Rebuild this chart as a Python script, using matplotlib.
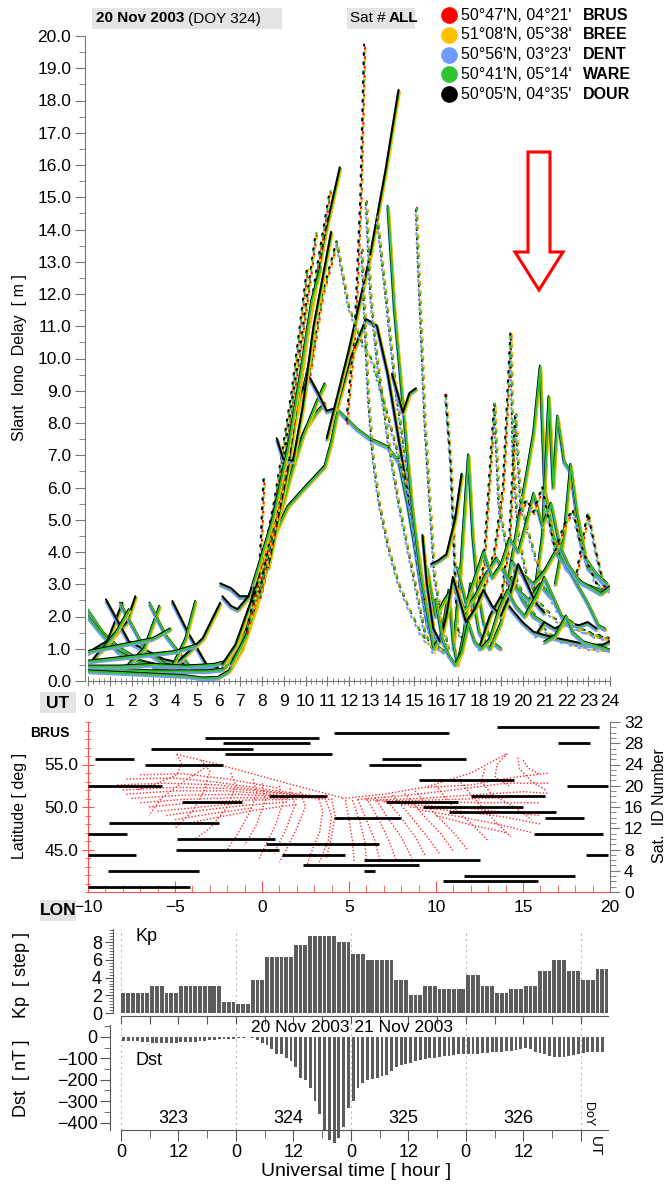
import numpy as np
import matplotlib
matplotlib.use('Agg')
import matplotlib.pyplot as plt
import matplotlib.transforms as mtrans
from matplotlib.ticker import MultipleLocator, FormatStrFormatter, FixedLocator, FixedFormatter
from matplotlib.lines import Line2D
from matplotlib.patches import Polygon, Rectangle

plt.rcParams['font.family'] = ['Liberation Sans', 'DejaVu Sans']

###############################################################################
# Data
###############################################################################
STATIONS = ['BRUS', 'BREE', 'DENT', 'WARE', 'DOUR']
COORDS = ["50°47'N, 04°21'", "51°08'N, 05°38'", "50°56'N, 03°23'",
          "50°41'N, 05°14'", "50°05'N, 04°35'"]
# Slant delay arcs (UT hour, metres) -- night hours
ARCS_NIGHT = [
    [(0.0, 2.2), (0.7, 1.5), (1.5, 1.0), (2.5, 0.6), (3.5, 0.45)],
    [(0.0, 2.0), (0.6, 1.5), (1.4, 0.9), (2.3, 0.6), (3.0, 0.5)],
    [(0.2, 0.6), (0.9, 1.2), (1.6, 2.4)],
    [(0.0, 0.85), (1.0, 1.25), (1.8, 1.8), (2.2, 2.6)],
    [(0.85, 2.5), (1.9, 1.2), (3.5, 0.65), (4.5, 0.5)],
    [(1.5, 2.4), (2.7, 0.9), (3.6, 0.5), (4.5, 0.4)],
    [(0.6, 0.9), (1.3, 1.5), (1.9, 2.2)],
    [(1.6, 0.3), (2.6, 1.0), (3.3, 2.3)],
    [(2.85, 2.4), (3.6, 1.4), (4.7, 0.45), (5.5, 0.4)],
    [(3.9, 2.45), (4.6, 1.5), (5.5, 0.45), (6.0, 0.4)],
    [(3.0, 0.4), (3.9, 0.45), (4.5, 1.3), (4.95, 2.45)],
    [(4.2, 0.6), (5.3, 1.3), (6.1, 2.4)],
    [(0.0, 0.9), (1.5, 1.1), (3.0, 1.3), (3.8, 1.6)],
    [(0.0, 0.6), (2.0, 0.75), (4.0, 0.9), (5.0, 1.1)],
    [(6.1, 3.0), (6.6, 2.85), (7.0, 2.6), (7.4, 2.6), (7.9, 3.3), (8.3, 4.2)],
    [(6.2, 2.6), (6.6, 2.3), (6.9, 2.2), (7.4, 2.6), (8.0, 3.8), (8.5, 5.0)],
]
# morning rise
ARCS_RISE = [
    [(0.0, 0.35), (1.5, 0.35), (3.0, 0.3), (4.5, 0.3), (5.5, 0.3), (6.2, 0.35),
     (6.7, 0.7), (7.3, 1.6), (8.0, 3.2), (8.7, 5.0), (9.4, 6.8), (10.0, 7.8),
     (10.5, 8.3), (10.9, 8.6)],
    [(0.0, 0.3), (1.5, 0.25), (3.0, 0.2), (4.5, 0.15), (5.3, 0.08), (6.0, 0.1),
     (6.5, 0.3), (7.1, 1.0), (7.8, 2.4), (8.6, 4.5), (9.3, 6.3), (9.9, 7.6),
     (10.5, 8.6), (10.9, 9.2)],
    [(0.0, 0.45), (1.5, 0.45), (3.0, 0.5), (4.5, 0.45), (5.8, 0.5), (6.4, 0.6),
     (6.9, 1.2), (7.5, 2.4), (8.2, 4.2), (8.9, 6.2), (9.5, 8.0), (10.0, 9.3),
     (10.4, 10.5)],
    [(6.6, 0.5), (7.3, 1.4), (8.0, 3.0), (8.5, 4.4), (9.2, 5.4), (10.0, 6.0),
     (10.9, 6.65), (11.2, 7.4), (11.5, 8.4), (12.4, 7.8), (13.0, 7.5),
     (13.8, 7.25), (14.3, 6.8), (14.7, 5.5), (15.0, 4.3), (15.3, 3.0),
     (15.6, 1.8), (16.0, 1.1), (16.4, 0.9)],
    [(6.2, 0.5), (6.8, 1.1), (7.6, 2.6), (8.4, 4.8), (9.2, 7.3), (9.8, 8.9),
     (10.2, 9.4), (10.6, 8.9), (11.0, 8.35), (11.46, 8.45), (12.1, 10.0),
     (12.8, 11.2), (13.3, 11.0), (13.8, 9.5), (14.3, 7.5), (14.8, 5.5),
     (15.2, 4.0), (15.6, 2.0), (16.0, 1.0)],
]
# midday peaks
ARCS_PEAK = [
    [(11.9, 8.0), (12.3, 11.0), (12.55, 15.0), (12.72, 19.7)],
    [(11.0, 7.5), (12.0, 10.2), (13.0, 13.2), (13.7, 15.8), (14.3, 18.3)],
    [(8.3, 3.5), (9.2, 6.5), (10.1, 10.8), (10.9, 13.8), (11.6, 15.9)],
    [(8.0, 2.8), (9.0, 6.2), (9.9, 10.0), (10.6, 13.0), (11.15, 15.2)],
    [(7.6, 2.2), (8.6, 5.6), (9.4, 9.0), (10.1, 12.8)],
    [(7.9, 2.6), (8.9, 6.3), (9.8, 10.4), (10.5, 13.9)],
    [(10.2, 9.5), (10.8, 12.0), (11.45, 13.6), (12.0, 11.6), (12.6, 10.5),
     (13.1, 9.9), (13.6, 8.7), (14.2, 7.2), (14.8, 5.6), (15.4, 2.6), (15.8, 1.5)],
    [(7.3, 1.5), (7.9, 3.3), (8.1, 6.3)],
    [(8.7, 7.5), (9.0, 6.85), (9.45, 6.8), (9.9, 8.5), (10.4, 11.0),
     (10.9, 12.8), (11.2, 13.9)],
    [(7.6, 3.0), (8.5, 5.0), (9.2, 7.2), (9.8, 9.6), (10.3, 11.8), (10.7, 12.8)],
]
# afternoon fall
ARCS_FALL = [
    [(12.8, 14.9), (13.0, 12.0), (13.3, 10.0), (13.8, 7.5), (14.3, 5.5),
     (14.9, 3.5), (15.5, 1.5), (15.9, 0.9)],
    [(13.3, 14.45), (13.7, 12.0), (14.2, 8.8), (14.7, 6.5), (15.2, 3.5),
     (15.7, 1.5), (16.2, 1.0)],
    [(13.8, 14.7), (14.1, 11.5), (14.5, 8.5), (14.9, 5.5), (15.3, 3.3),
     (15.7, 1.8), (16.1, 1.2)],
    [(15.1, 14.7), (15.2, 12.9), (15.35, 10.5), (15.5, 8.0), (15.7, 5.8),
     (15.95, 3.2), (16.3, 1.8), (16.6, 1.0)],
    [(14.0, 9.5), (14.5, 8.3), (14.8, 8.9), (15.1, 9.05)],
    [(12.6, 13.4), (12.75, 11.0), (12.9, 8.8), (13.1, 7.0), (13.4, 5.5),
     (13.8, 4.2), (14.3, 3.0), (14.8, 2.2), (15.3, 1.5), (15.6, 1.2)],
    [(16.45, 8.9), (16.7, 6.6), (16.9, 3.1), (17.0, 1.6), (17.3, 1.2)],
]
# evening disturbance
ARCS_EVENING = [
    [(18.2, 2.8), (18.7, 4.0), (19.1, 6.0), (19.45, 10.8), (19.55, 7.0),
     (19.8, 4.5), (20.2, 3.2), (20.8, 2.4), (21.5, 1.9), (22.5, 1.6),
     (23.5, 1.4), (24.0, 1.3)],
    [(17.6, 2.2), (18.2, 3.5), (18.7, 8.6), (18.9, 5.5), (19.3, 4.0),
     (19.8, 3.0), (20.4, 2.2), (21.0, 1.6), (21.5, 1.3), (22.5, 1.1),
     (23.2, 1.0), (23.8, 0.95)],
    [(19.3, 3.0), (19.8, 5.0), (20.2, 6.5), (20.5, 7.7), (20.8, 9.75),
     (21.0, 6.0), (21.4, 4.5), (22.0, 3.5), (22.8, 3.0), (23.6, 2.8), (24.0, 2.9)],
    [(20.5, 2.5), (20.9, 4.5), (21.2, 8.8), (21.4, 6.0), (21.6, 8.2),
     (21.9, 6.8), (22.2, 6.5), (22.6, 4.5), (23.0, 3.5), (23.5, 3.2), (24.0, 2.8)],
    [(22.4, 3.0), (22.8, 4.5), (23.0, 5.2), (23.3, 4.2), (23.6, 3.3), (23.9, 2.9)],
    [(19.0, 2.5), (19.4, 4.5), (19.67, 8.3), (19.9, 5.5), (20.3, 4.5),
     (20.6, 3.8), (21.0, 3.0), (21.5, 2.3), (22.0, 1.8), (22.7, 1.6),
     (23.3, 1.4), (23.9, 1.3)],
    [(21.5, 3.0), (21.9, 4.5), (22.2, 6.7), (22.5, 5.2), (22.9, 3.8),
     (23.4, 3.3), (23.9, 3.0)],
    [(15.8, 3.6), (16.1, 3.7), (16.5, 3.9), (16.9, 5.0), (17.2, 6.4)],
    [(16.8, 1.0), (17.1, 3.0), (17.3, 5.0), (17.5, 7.0), (17.7, 4.5),
     (17.9, 3.0), (18.2, 1.8), (18.6, 1.2), (19.0, 1.0)],
    [(15.5, 2.5), (15.9, 1.0), (16.3, 1.5), (16.6, 2.8), (16.8, 1.2),
     (17.0, 0.5), (17.3, 1.5), (17.6, 3.0), (18.0, 1.5), (18.5, 1.0),
     (19.0, 1.8), (19.5, 3.2), (20.0, 2.5), (20.5, 2.0), (21.0, 1.8)],
    [(15.6, 3.5), (16.0, 2.0), (16.4, 2.5), (16.9, 3.0), (17.3, 2.2),
     (17.8, 2.6), (18.3, 3.3), (18.8, 3.8), (19.3, 3.2), (19.8, 2.8),
     (20.3, 2.5), (20.8, 3.0), (21.3, 2.6)],
    [(19.5, 3.7), (20.0, 3.3), (20.5, 3.0), (21.0, 3.4), (21.5, 4.0),
     (22.0, 3.6), (22.5, 3.0), (23.0, 2.4), (23.5, 1.7), (23.8, 1.6)],
    [(20.6, 1.4), (21.0, 1.8), (21.5, 1.6), (22.0, 1.8), (22.6, 1.7),
     (23.0, 1.8), (23.4, 1.6)],
    [(18.0, 1.0), (18.5, 2.0), (19.0, 2.6), (19.5, 2.2), (20.0, 1.8),
     (20.5, 1.5), (21.0, 1.4), (21.6, 1.3), (22.3, 1.2), (23.0, 1.1),
     (23.7, 1.1), (24.0, 1.2)],
    [(15.4, 4.5), (15.6, 3.0), (15.9, 1.6), (16.2, 1.2), (16.5, 2.0),
     (16.8, 3.2), (17.1, 2.5), (17.4, 1.8), (17.8, 2.2), (18.2, 2.8),
     (18.6, 2.3), (19.0, 2.0), (19.4, 2.6), (19.8, 3.6), (20.2, 3.0),
     (20.6, 2.4), (21.0, 2.1)],
    [(16.0, 2.5), (16.3, 1.3), (16.6, 0.8), (16.9, 0.5), (17.2, 0.9),
     (17.5, 1.8), (17.8, 1.2), (18.1, 1.0), (18.5, 1.3), (18.9, 2.2),
     (19.3, 2.8), (19.7, 2.3), (20.1, 2.0), (20.6, 2.6), (21.0, 3.2),
     (21.4, 2.6), (21.8, 2.0), (22.3, 1.8)],
    [(17.0, 3.5), (17.4, 2.4), (17.8, 3.2), (18.2, 4.0), (18.6, 3.2),
     (19.0, 3.6), (19.4, 4.4), (19.8, 4.0), (20.2, 5.0), (20.5, 5.8),
     (20.9, 4.8), (21.3, 5.5), (21.7, 4.2), (22.1, 3.6), (22.6, 3.1),
     (23.1, 2.9), (23.6, 2.7), (24.0, 2.9)],
    [(19.8, 5.2), (20.2, 5.6), (20.5, 5.2), (20.9, 6.0), (21.2, 5.0),
     (21.5, 4.0), (21.9, 4.8), (22.3, 5.3), (22.6, 4.4), (23.0, 3.6),
     (23.4, 3.0), (23.8, 2.9)],
    [(21.0, 1.2), (21.5, 1.4), (22.0, 2.0), (22.3, 1.5), (22.8, 1.2),
     (23.3, 1.1), (23.8, 1.0), (24.0, 0.95)],
]
# Ionospheric pierce point tracks seen from BRUS (lon, lat)
TRACKS = [
    [(-4.9, 56.2), (-2.5, 55.0), (0.0, 53.6), (2.5, 52.2), (4.6, 51.1)],
    [(4.6, 51.0), (7.0, 51.5), (9.5, 52.4), (12.0, 54.0), (14.1, 56.3)],
    [(-7.8, 53.3), (-5.0, 53.4), (-2.5, 52.9), (0.5, 52.0), (3.0, 51.3)],
    [(-8.0, 52.0), (-5.0, 52.3), (-2.0, 52.2), (1.0, 51.6), (3.5, 51.0)],
    [(-7.5, 51.0), (-4.5, 51.4), (-1.5, 51.5), (1.5, 51.2), (4.0, 50.9)],
    [(-6.5, 50.0), (-4.0, 50.5), (-1.0, 50.8), (2.0, 50.9)],
    [(-5.5, 49.0), (-3.5, 49.6), (-1.0, 50.2), (1.5, 50.6)],
    [(-4.5, 48.0), (-2.5, 48.8), (-0.5, 49.6), (2.0, 50.3)],
    [(-7.0, 53.8), (-4.5, 53.9), (-2.0, 53.3), (1.0, 52.2)],
    [(-8.3, 52.6), (-5.5, 52.8), (-2.5, 52.6), (0.5, 51.8), (3.0, 51.2)],
    [(-7.8, 51.5), (-5.0, 51.9), (-2.0, 51.9), (1.0, 51.4)],
    [(-7.0, 50.5), (-4.5, 50.9), (-1.5, 51.1), (1.5, 51.0)],
    [(-6.0, 49.5), (-3.5, 50.0), (-1.0, 50.5)],
    [(-5.0, 48.5), (-3.0, 49.2), (-0.5, 49.9)],
    [(-4.9, 56.2), (-4.6, 55.0), (-4.9, 53.8), (-6.0, 52.8), (-7.2, 52.0)],
    [(-3.5, 55.5), (-3.0, 54.2), (-3.3, 52.0), (-4.0, 49.5), (-5.0, 47.5)],
    [(-3.0, 55.0), (-4.5, 53.0), (-5.8, 51.0), (-6.5, 49.0)],
    [(-1.8, 54.0), (-1.5, 52.5), (-2.0, 50.0), (-3.0, 47.5), (-4.0, 46.0)],
    [(-0.5, 53.3), (-0.3, 51.5), (-0.8, 49.0), (-1.5, 46.5), (-2.0, 45.0)],
    [(0.0, 52.8), (0.2, 50.8), (-0.3, 48.0), (-1.0, 45.5)],
    [(1.0, 52.5), (1.2, 50.5), (0.8, 48.0), (0.2, 45.5), (-0.2, 43.8)],
    [(1.6, 52.2), (1.9, 50.2), (1.4, 47.5), (0.7, 44.5)],
    [(2.2, 51.8), (2.5, 50.0), (2.0, 47.5), (1.4, 45.0), (1.0, 43.5)],
    [(3.2, 51.3), (3.5, 49.5), (3.3, 47.0), (2.8, 44.5), (2.6, 43.2)],
    [(3.6, 51.1), (4.0, 49.0), (3.8, 46.0), (3.3, 43.5)],
    [(4.0, 51.0), (4.2, 49.0), (4.0, 46.5), (3.7, 44.0)],
    [(4.8, 50.8), (5.0, 48.5), (5.2, 46.0), (5.3, 43.5)],
    [(5.2, 50.8), (5.6, 48.5), (5.9, 46.0), (6.0, 43.5)],
    [(5.5, 50.9), (6.0, 48.5), (6.5, 46.0), (6.8, 43.5)],
    [(6.0, 51.0), (6.7, 48.6), (7.3, 46.0), (7.7, 43.8)],
    [(6.5, 51.1), (7.2, 48.8), (8.0, 46.5), (8.6, 44.0)],
    [(7.0, 51.2), (7.9, 49.0), (8.8, 46.5), (9.4, 44.2)],
    [(7.5, 51.4), (8.5, 49.0), (9.5, 46.5), (10.2, 44.5)],
    [(8.2, 51.6), (9.2, 49.2), (10.3, 46.8), (11.0, 44.8)],
    [(8.8, 51.9), (9.8, 49.5), (11.0, 47.0), (11.8, 45.0)],
    [(10.0, 52.5), (11.0, 50.0), (12.3, 47.5), (13.0, 46.0)],
    [(11.3, 53.2), (12.2, 51.0), (13.3, 48.5), (14.3, 46.5)],
    [(12.8, 54.5), (12.6, 53.0), (13.2, 51.5), (14.5, 50.0), (15.5, 48.5)],
    [(14.1, 56.3), (13.5, 55.0), (13.4, 53.5), (14.2, 52.5)],
    [(14.7, 55.8), (14.8, 54.5), (15.5, 53.0), (16.3, 52.0)],
    [(15.0, 55.5), (15.3, 54.6), (16.0, 53.8)],
    [(9.5, 52.3), (12.0, 52.6), (14.5, 53.5), (16.5, 54.0)],
    [(5.5, 50.9), (8.0, 51.3), (11.0, 52.0), (14.0, 52.8), (16.5, 52.8)],
    [(6.0, 50.8), (9.0, 51.0), (12.0, 51.4), (15.0, 51.8), (16.5, 51.6)],
    [(6.5, 50.7), (9.5, 50.8), (12.5, 51.0), (15.5, 51.2)],
    [(7.0, 50.6), (10.0, 50.6), (13.0, 50.5), (16.0, 50.5)],
    [(8.0, 50.3), (11.0, 50.0), (13.5, 49.5), (16.0, 49.0)],
    [(8.5, 50.0), (11.5, 49.5), (14.0, 48.8), (16.0, 48.0)],
    [(9.0, 49.7), (11.5, 48.8), (13.5, 48.0), (15.5, 47.0)],
    [(10.0, 49.0), (12.0, 47.9), (14.0, 47.0)],
]
# Satellite visibility: (sat id, start UT, end UT)
SAT_PASSES = [
    (31, 18.8, 23.5), (30, 11.3, 16.6), (29, 5.4, 10.6), (28, 6.2, 10.2),
    (28, 21.6, 23.1), (27, 2.9, 7.6), (26, 6.3, 11.2), (25, 13.5, 17.4),
    (25, 0.3, 2.1), (24, 2.6, 6.2), (24, 12.9, 15.3), (21, 15.2, 19.6),
    (20, 0.0, 3.4), (20, 22.0, 23.9), (18, 8.3, 11.0), (18, 17.6, 21.0),
    (17, 4.3, 7.1), (17, 13.7, 17.0), (16, 15.4, 20.0), (15, 16.6, 21.5),
    (14, 11.3, 14.4), (14, 21.0, 22.8), (13, 0.95, 6.0), (11, 0.0, 1.8),
    (11, 20.5, 23.7), (10, 4.1, 8.6), (9, 8.2, 13.4), (8, 4.05, 8.8),
    (7, 0.0, 2.2), (7, 8.9, 11.8), (7, 22.9, 23.9), (6, 12.7, 18.0),
    (5, 9.9, 15.2), (4, 0.9, 5.1), (4, 12.7, 13.2), (3, 17.3, 22.4),
    (2, 16.3, 20.7), (1, 0.0, 4.7),
]
# Kp, 3-hourly from DOY 323 00 UT
KP = [2.3, 2.3, 3.0, 2.3, 3.0, 3.0, 3.0, 1.3,
      1.0, 3.7, 6.3, 6.3, 7.7, 8.7, 8.7, 8.0,
      6.7, 6.0, 6.0, 3.7, 2.0, 3.0, 2.7, 2.7,
      4.3, 3.0, 2.3, 2.7, 3.0, 4.7, 6.0, 4.7,
      3.7, 5.0]
# Dst, hourly from DOY 323 00 UT
DST = [-18, -18, -20, -20, -22, -25, -28, -30, -30, -30, -28, -28,
       -26, -25, -22, -22, -20, -18, -16, -14, -12, -10, -9, -8,
       -5, -4, -3, -5, -15, -28, -38, -55, -80, -80, -100, -115,
       -140, -190, -200, -240, -300, -360, -440, -480, -495, -470, -420, -330,
       -300, -240, -215, -200, -195, -190, -185, -180, -160, -140, -130, -125,
       -120, -115, -110, -105, -100, -100, -95, -90, -88, -85, -80, -80,
       -80, -80, -78, -75, -75, -72, -70, -70, -68, -65, -60, -55,
       -52, -58, -70, -75, -80, -88, -92, -95, -92, -88, -85, -80,
       -75, -72, -70, -72, -72]
DOY_LABELS = ['323', '324', '325', '326']

###############################################################################
# Styles
###############################################################################
COLORS = {'BRUS': '#ff0000', 'BREE': '#ffc000', 'DENT': '#6d9bff',
          'WARE': '#2fc42f', 'DOUR': '#000000'}
OFFSETS = {'BRUS': (0.4, -0.6), 'BREE': (0.7, -1.0), 'DENT': (-0.7, -1.3),
           'DOUR': (-0.4, 0.7), 'WARE': (0.0, 0.0)}
# s = solid, k = solid black on top, d = dotted, D = dotted black on top
STYLE_NIGHT = 'sskkkssssksksskk'
STYLE_RISE = 'ssssk'
STYLE_PEAK = 'DkkddddDks'
STYLE_FALL = 'ddsdkdD'
STYLE_EVENING = 'ddssDdsksssskkkssDs'
GREY = '#e4e4e4'

(W, H) = (668, 1194)
def fx(x):
    return x / W
def fy(y):
    return 1 - y / H

fig = plt.figure(figsize=(W / 100, H / 100), dpi=100)

###############################################################################
# Slant delay panel
###############################################################################
ax1 = fig.add_axes([fx(88), fy(681), fx(610) - fx(88), fy(36) - fy(681)])

def draw_arc(ax, pts, style):
    t = [p[0] for p in pts]
    v = [p[1] for p in pts]
    if style in 'kD':
        order = ['BRUS', 'BREE', 'DENT', 'WARE', 'DOUR']
    else:
        order = ['BRUS', 'BREE', 'DENT', 'DOUR', 'WARE']
    for (i, st) in enumerate(order):
        (dx, dy) = OFFSETS[st]
        tr = mtrans.offset_copy(ax.transData, fig=fig, x=dx, y=dy, units='points')
        if style in 'dD':
            ax.plot(t, v, color=COLORS[st], lw=1.5, ls=(i * 0.9, (0.8, 3.7)),
                    transform=tr, dash_capstyle='round')
        else:
            ax.plot(t, v, color=COLORS[st], lw=1.4, transform=tr,
                    solid_capstyle='round', solid_joinstyle='round')

for (group, styles) in [(ARCS_NIGHT, STYLE_NIGHT), (ARCS_RISE, STYLE_RISE),
                        (ARCS_PEAK, STYLE_PEAK), (ARCS_FALL, STYLE_FALL),
                        (ARCS_EVENING, STYLE_EVENING)]:
    for (pts, st) in zip(group, styles):
        draw_arc(ax1, pts, st)

ax1.set_xlim(0, 24)
ax1.set_ylim(0, 20)
for s in ['top', 'right']:
    ax1.spines[s].set_visible(False)
for s in ['left', 'bottom']:
    ax1.spines[s].set_color('#777777')
ax1.spines['left'].set_position(('outward', 2))
ax1.yaxis.set_major_locator(MultipleLocator(1))
ax1.yaxis.set_minor_locator(MultipleLocator(0.5))
ax1.yaxis.set_major_formatter(FormatStrFormatter('%.1f'))
ax1.xaxis.set_major_locator(MultipleLocator(1))
ax1.xaxis.set_minor_locator(MultipleLocator(0.25))
ax1.tick_params(axis='y', which='major', length=7, color='#777777', labelsize=12.5, pad=3)
ax1.tick_params(axis='y', which='minor', length=4, color='#777777')
ax1.tick_params(axis='x', which='major', direction='inout', length=7, color='#777777',
                labelsize=12.5, pad=6)
ax1.tick_params(axis='x', which='minor', direction='inout', length=5, color='#777777')
fig.text(fx(20), fy(358), 'Slant  Iono  Delay  [ m ]', rotation=90,
         ha='center', va='center', fontsize=11.5)

# header boxes
fig.add_artist(Rectangle((fx(92), fy(29)), fx(282) - fx(92), fy(8) - fy(29),
                         transform=fig.transFigure, color=GREY, lw=0))
fig.text(fx(96), fy(18.5), '20 Nov 2003', fontsize=11, fontweight='bold', va='center')
fig.text(fx(188), fy(18.5), '(DOY 324)', fontsize=11, va='center')
fig.add_artist(Rectangle((fx(347), fy(29)), fx(415) - fx(347), fy(8) - fy(29),
                         transform=fig.transFigure, color=GREY, lw=0))
fig.text(fx(350), fy(18.5), 'Sat #', fontsize=11, va='center')
fig.text(fx(389), fy(18.5), 'ALL', fontsize=11, fontweight='bold', va='center')

# legend
for (i, (st, co)) in enumerate(zip(STATIONS, COORDS)):
    yy = fy(15 + i * 19.8)
    fig.add_artist(Line2D([fx(449)], [yy], marker='o', ms=11, color=COLORS[st],
                          mec=COLORS[st], transform=fig.transFigure))
    fig.text(fx(461), yy, co, fontsize=11.5, va='center')
    fig.text(fx(583), yy, st, fontsize=11.5, fontweight='bold', va='center')

# red arrow
arrow = [(528, 152), (550, 152), (550, 252), (563, 252), (539, 290),
         (515, 252), (528, 252)]
fig.add_artist(Polygon([(fx(a), fy(b)) for (a, b) in arrow], closed=True,
                       transform=fig.transFigure, fill=False, ec='#ff0000', lw=2.2))

# UT box
fig.add_artist(Rectangle((fx(40), fy(713)), fx(76) - fx(40), fy(692) - fy(713),
                         transform=fig.transFigure, color=GREY, lw=0))
fig.text(fx(58), fy(703), 'UT', fontsize=12.5, fontweight='bold', ha='center', va='center')

###############################################################################
# Pierce point / satellite panel
###############################################################################
rect = [fx(88), fy(892), fx(610) - fx(88), fy(722) - fy(892)]
ax2 = fig.add_axes(rect)
for trk in TRACKS:
    ax2.plot([p[0] for p in trk], [p[1] for p in trk], color='#ff2a2a', lw=1.0,
             ls=(0, (1, 1.4)))
ax2.set_xlim(-10, 20)
ax2.set_ylim(40, 60)
for s in ['top', 'right']:
    ax2.spines[s].set_visible(False)
for s in ['left', 'bottom']:
    ax2.spines[s].set_color('#ff5050')
ax2.xaxis.set_major_locator(MultipleLocator(5))
ax2.xaxis.set_minor_locator(MultipleLocator(1))
ax2.yaxis.set_major_locator(FixedLocator([45, 50, 55]))
ax2.yaxis.set_minor_locator(MultipleLocator(1))
ax2.yaxis.set_major_formatter(FormatStrFormatter('%.1f'))
ax2.tick_params(axis='x', which='major', direction='in', length=8, color='#ff5050',
                labelsize=12.5, pad=6)
ax2.tick_params(axis='x', which='minor', direction='in', length=5, color='#ff5050')
ax2.tick_params(axis='y', which='major', direction='inout', length=8, color='#ff5050',
                labelsize=12.5, pad=3)
ax2.tick_params(axis='y', which='minor', direction='inout', length=4, color='#ff5050')

ax3 = fig.add_axes(rect)
ax3.patch.set_visible(False)
for (sat, t0, t1) in SAT_PASSES:
    ax3.hlines(sat, t0, t1, color='black', lw=2.0)
ax3.set_xlim(0, 24)
ax3.set_ylim(0, 32)
for s in ['top', 'left', 'bottom']:
    ax3.spines[s].set_visible(False)
ax3.spines['right'].set_color('#777777')
ax3.xaxis.set_visible(False)
ax3.yaxis.tick_right()
ax3.yaxis.set_major_locator(MultipleLocator(4))
ax3.yaxis.set_minor_locator(MultipleLocator(1))
ax3.tick_params(axis='y', which='major', length=7, color='#777777', labelsize=12.5, pad=3)
ax3.tick_params(axis='y', which='minor', length=4, color='#777777')
fig.text(fx(660), fy(806), 'Sat.  ID Number', rotation=90, ha='center', va='center',
         fontsize=11.5)
fig.text(fx(20), fy(806), 'Latitude [ deg ]', rotation=90, ha='center', va='center',
         fontsize=11.5)
fig.text(fx(50), fy(733), 'BRUS', fontsize=10, fontweight='bold', ha='center', va='center')
fig.add_artist(Rectangle((fx(40), fy(921)), fx(76) - fx(40), fy(900) - fy(921),
                         transform=fig.transFigure, color=GREY, lw=0))
fig.text(fx(58), fy(910.5), 'LON', fontsize=12.5, fontweight='bold', ha='center', va='center')

###############################################################################
# Kp panel
###############################################################################
axk = fig.add_axes([fx(113), fy(1013), fx(608) - fx(113), fy(929) - fy(1013)])
hrs = np.arange(len(KP) * 3)
axk.bar(hrs + 0.5, np.repeat(KP, 3), width=0.8, color='#5c5c5c', lw=0)
for d in range(0, 97, 24):
    axk.axvline(d, color='#bbbbbb', lw=0.8, ls=(0, (2, 3)), zorder=0)
axk.set_xlim(-1.67, 101.7)
axk.set_ylim(0, 9.5)
for s in ['top', 'right']:
    axk.spines[s].set_visible(False)
for s in ['left', 'bottom']:
    axk.spines[s].set_color('#555555')
axk.spines['bottom'].set_bounds(0, 101.7)
axk.spines['bottom'].set_position(('outward', 2))
axk.yaxis.set_major_locator(MultipleLocator(2))
axk.yaxis.set_minor_locator(MultipleLocator(1 / 3))
axk.xaxis.set_major_locator(MultipleLocator(6))
axk.tick_params(axis='y', which='major', length=6, labelsize=13, pad=2, color='#555555')
axk.tick_params(axis='y', which='minor', length=3, color='#555555')
axk.tick_params(axis='x', which='major', length=6, labelbottom=False, color='#555555')
axk.text(3.0, 8.6, 'Kp', fontsize=13, va='center')
fig.text(fx(22), fy(975), 'Kp  [ step ]', rotation=90, ha='center', va='center', fontsize=13)

###############################################################################
# Dst panel
###############################################################################
axd = fig.add_axes([fx(110), fy(1130), fx(608) - fx(110), fy(1025) - fy(1130)])
axd.bar(np.arange(len(DST)) + 0.5, DST, width=0.6, color='#5c5c5c', lw=0, clip_on=False)
for d in range(0, 97, 24):
    axd.axvline(d, color='#bbbbbb', lw=0.8, ls=(0, (2, 3)), zorder=0)
axd.set_xlim(-2.3, 101.7)
axd.set_ylim(-435, 55)
for s in ['top', 'right']:
    axd.spines[s].set_visible(False)
for s in ['left', 'bottom']:
    axd.spines[s].set_color('#555555')
axd.spines['bottom'].set_bounds(0, 101.7)
axd.yaxis.set_major_locator(MultipleLocator(100))
axd.yaxis.set_minor_locator(MultipleLocator(50))
axd.xaxis.set_major_locator(FixedLocator([0, 12, 24, 36, 48, 60, 72, 84, 96]))
axd.xaxis.set_major_formatter(FixedFormatter(['0', '12', '0', '12', '0', '12',
                                              '0', '12', '']))
axd.xaxis.set_minor_locator(MultipleLocator(6))
axd.tick_params(axis='y', which='major', length=7, labelsize=13, pad=2, color='#555555')
axd.tick_params(axis='y', which='minor', length=4, color='#555555')
axd.tick_params(axis='x', which='major', length=8, labelsize=13, pad=2, color='#555555')
axd.tick_params(axis='x', which='minor', length=6, color='#555555')
axd.text(3.0, -110, 'Dst', fontsize=13, va='center')
for (i, lab) in enumerate(DOY_LABELS):
    axd.text(24 * i + 11, -382, lab, fontsize=13, ha='center', va='center')
axd.text(97.5, -362, 'DoY', fontsize=9, rotation=-90, ha='center', va='center')
fig.text(fx(595), fy(1146), 'UT', fontsize=11, rotation=-90, ha='center', va='center')
fig.text(fx(352), fy(1027), '20 Nov 2003 21 Nov 2003', fontsize=12.5,
         ha='center', va='center')
fig.text(fx(22), fy(1078), 'Dst  [ nT ]', rotation=90, ha='center', va='center', fontsize=13)
fig.text(fx(356), fy(1172), 'Universal time [ hour ]', ha='center', va='center', fontsize=14)

fig.savefig('out.png', dpi=100)
